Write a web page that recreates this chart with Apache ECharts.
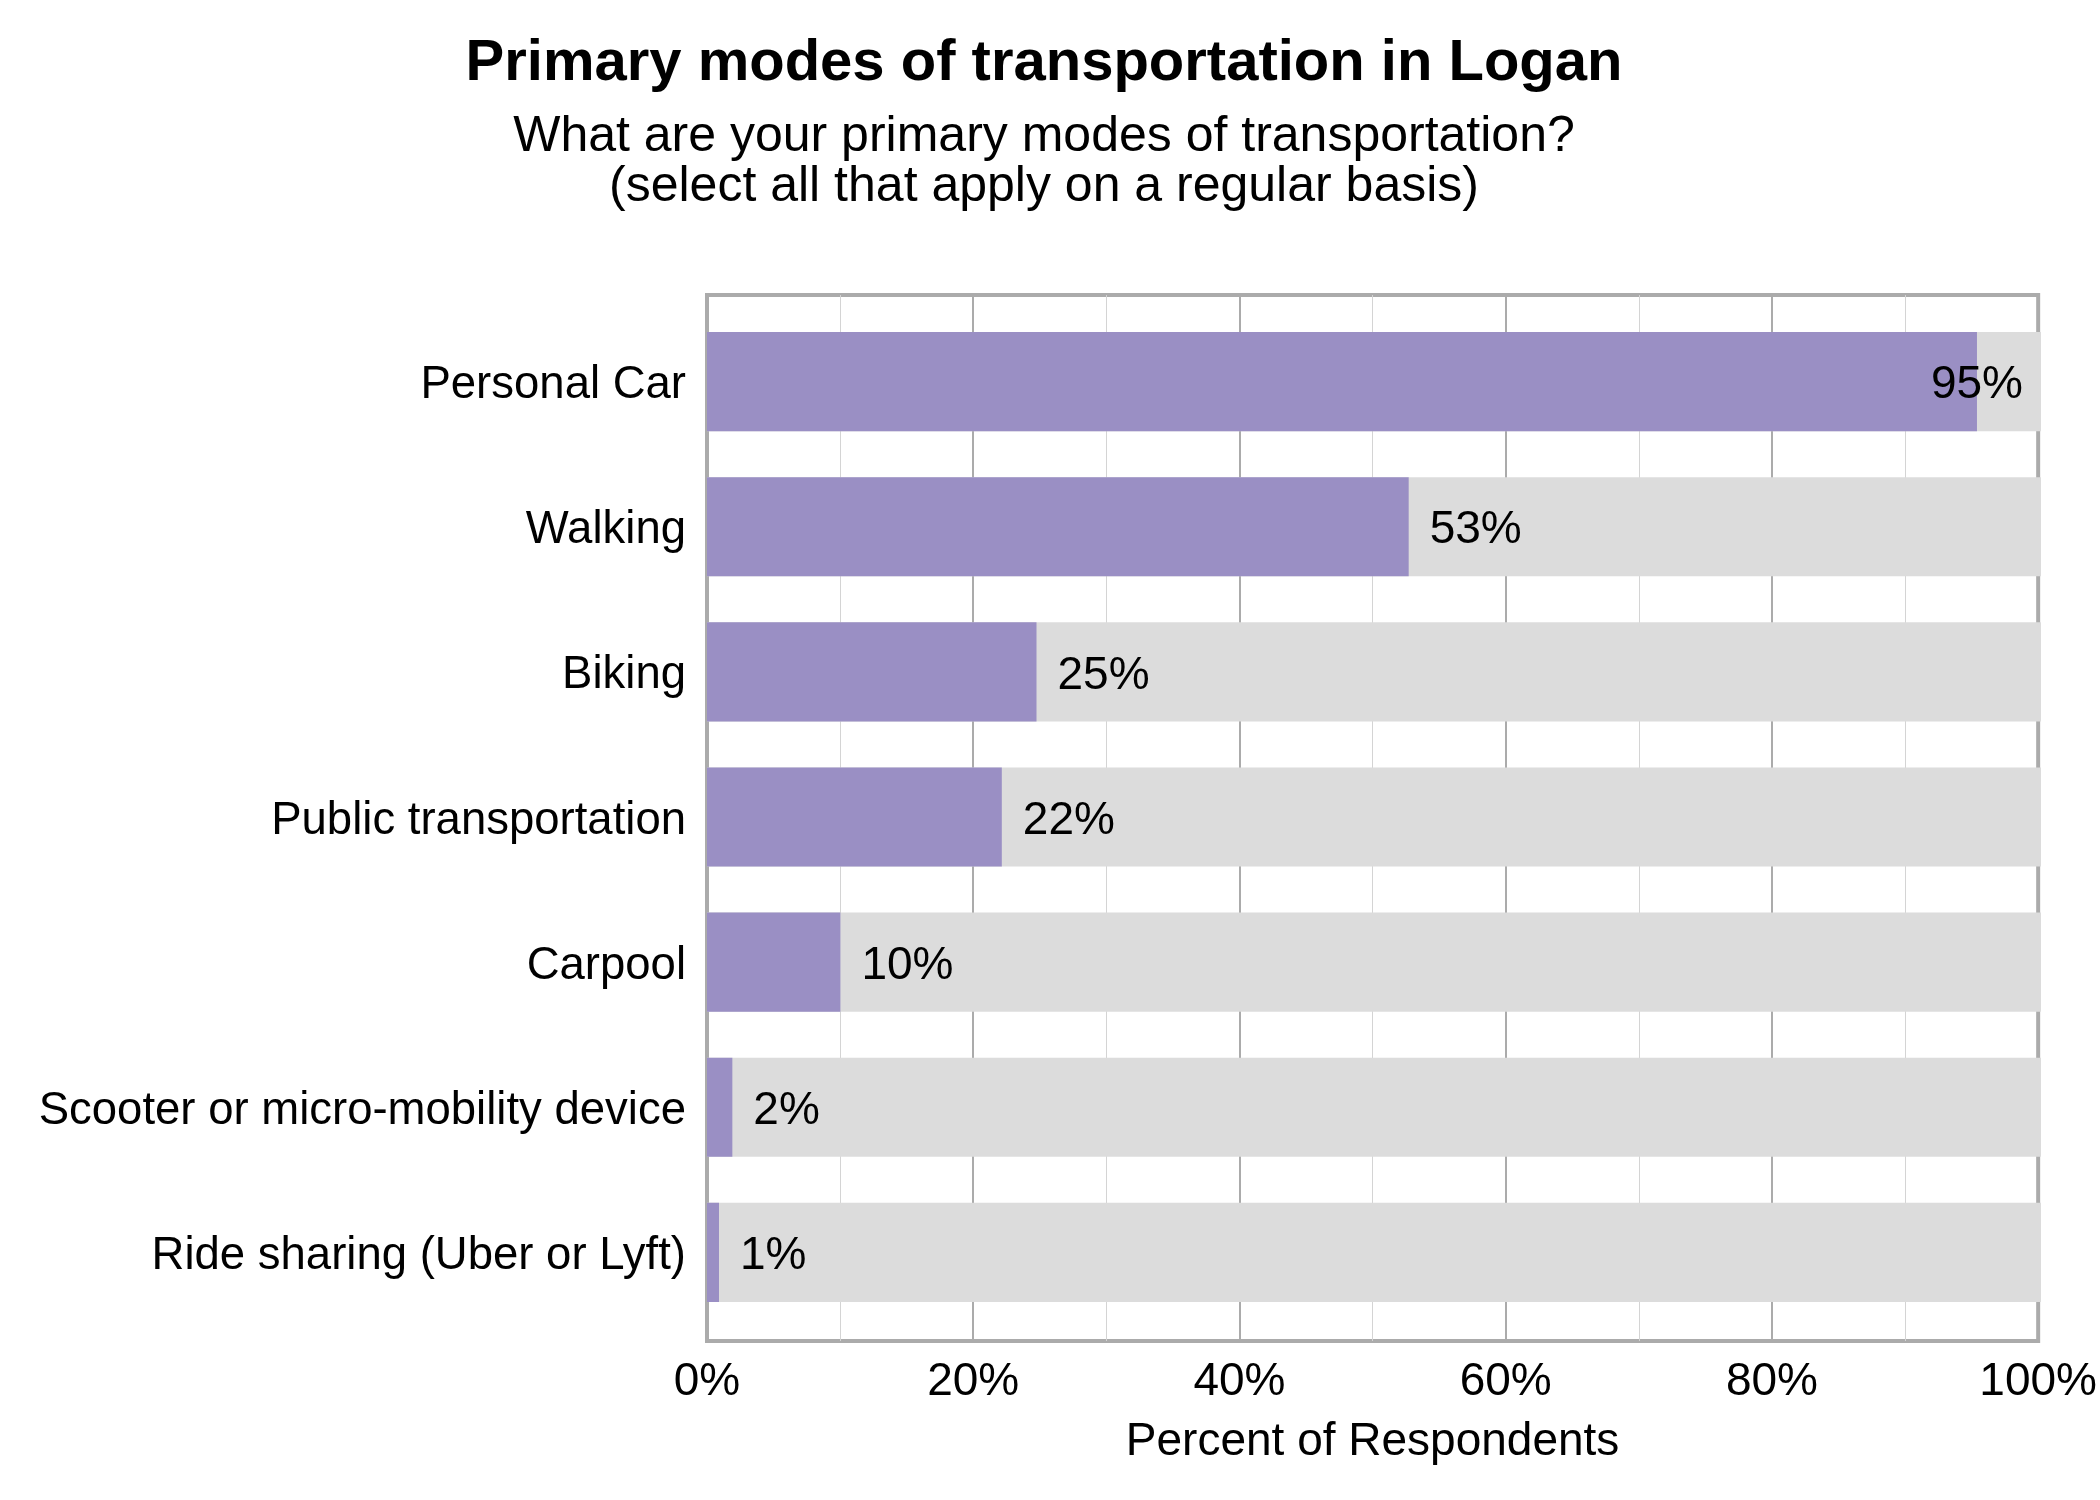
<!DOCTYPE html>
<html>
<head>
<meta charset="utf-8">
<title>Primary modes of transportation in Logan</title>
<script src="https://cdn.jsdelivr.net/npm/echarts@6/dist/echarts.min.js"></script>
<style>
  html, body { margin: 0; padding: 0; background: #fff; }
  #chart { width: 2100px; height: 1500px; }
</style>
</head>
<body>
<div id="chart"></div>
<script>
// data
var modes = [
  'Personal Car',
  'Walking',
  'Biking',
  'Public transportation',
  'Carpool',
  'Scooter or micro-mobility device',
  'Ride sharing (Uber or Lyft)'
];
var shares = [95.2, 52.6, 24.7, 22.1, 10.0, 1.9, 0.9];
var pctTicks = [0, 20, 40, 60, 80, 100];

var font = 'Liberation Sans, Arial, sans-serif';
var chart = echarts.init(document.getElementById('chart'));

var barData = shares.map(function (v, i) {
  var item = { value: v };
  // the first label would run past 100%, so it sits centred on the bar end
  if (i === 0) {
    item.label = { position: 'right', distance: 0, align: 'center' };
  }
  return item;
});

chart.setOption({
  animation: false,
  backgroundColor: '#fff',
  title: [
    {
      text: 'Primary modes of transportation in Logan',
      left: 1039,
      top: 30,
      textAlign: 'center',
      textStyle: { fontFamily: font, fontSize: 58, fontWeight: 'bold', color: '#000' }
    },
    {
      text: 'What are your primary modes of transportation?\n(select all that apply on a regular basis)',
      left: 1039,
      top: 107,
      textAlign: 'center',
      textStyle: { fontFamily: font, fontSize: 50, fontWeight: 'normal', color: '#000', lineHeight: 50 }
    }
  ],
  // grid 0: frame, gridlines and the percent axis; grid 1: padded band for the bars
  grid: [
    {
      left: 707, right: 59, top: 295, bottom: 159,
      show: true,
      borderColor: '#ababab',
      borderWidth: 4,
      backgroundColor: 'transparent'
    },
    { left: 707, right: 59, top: 309, bottom: 175 }
  ],
  xAxis: [
    {
      gridIndex: 0,
      type: 'value',
      min: pctTicks[0],
      max: pctTicks[pctTicks.length - 1],
      interval: 20,
      name: 'Percent of Respondents',
      nameLocation: 'middle',
      nameGap: 78,
      nameTextStyle: { fontFamily: font, fontSize: 46, color: '#000' },
      axisLine: { show: false },
      axisTick: { show: false },
      axisLabel: {
        fontFamily: font,
        fontSize: 46,
        color: '#000',
        margin: 18,
        formatter: '{value}%'
      },
      splitLine: { show: true, lineStyle: { color: '#ababab', width: 2 } },
      minorTick: { show: false, splitNumber: 2 },
      minorSplitLine: { show: true, lineStyle: { color: '#d4d4d4', width: 1 } }
    },
    {
      gridIndex: 1,
      type: 'value',
      min: pctTicks[0],
      max: pctTicks[pctTicks.length - 1],
      show: false
    }
  ],
  yAxis: [
    {
      gridIndex: 0,
      type: 'category',
      data: modes,
      show: false
    },
    {
      gridIndex: 1,
      type: 'category',
      data: modes,
      inverse: true,
      axisLine: { show: false },
      axisTick: { show: false },
      splitLine: { show: false },
      axisLabel: {
        margin: 21,
        formatter: '{a|{value}}',
        rich: {
          a: {
            fontFamily: font,
            fontSize: 45.5,
            color: '#000',
            padding: [8, 0, 0, 0]
          }
        }
      }
    }
  ],
  series: [
    {
      type: 'bar',
      xAxisIndex: 1,
      yAxisIndex: 1,
      data: barData,
      barCategoryGap: '31.7%',
      itemStyle: { color: '#9a8fc4' },
      showBackground: true,
      backgroundStyle: { color: '#dcdcdc' },
      label: {
        show: true,
        position: 'right',
        distance: 21,
        offset: [0, 4],
        fontFamily: font,
        fontSize: 46,
        color: '#000',
        formatter: function (p) { return Math.round(p.value) + '%'; }
      }
    }
  ]
});
</script>
</body>
</html>
